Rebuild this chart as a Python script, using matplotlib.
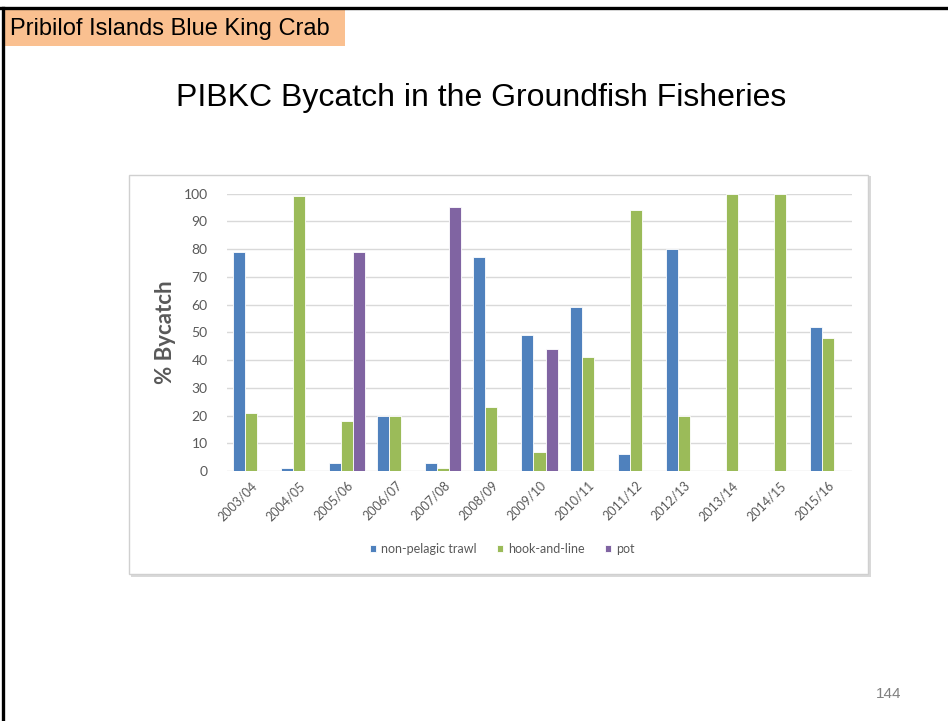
import matplotlib.pyplot as plt
import numpy as np
from matplotlib.patches import Rectangle
from matplotlib.lines import Line2D

# data
seasons = ['2003/04', '2004/05', '2005/06', '2006/07', '2007/08', '2008/09', '2009/10',
           '2010/11', '2011/12', '2012/13', '2013/14', '2014/15', '2015/16']
trawl = [79, 1, 3, 20, 3, 77, 49, 59, 6, 80, 0, 0, 52]
hook_line = [21, 99, 18, 20, 1, 23, 7, 41, 94, 20, 100, 100, 48]
pot = [0, 0, 79, 0, 95, 0, 44, 0, 0, 0, 0, 0, 0]
series_names = ['non-pelagic trawl', 'hook-and-line', 'pot']
colors = ['#4F81BD', '#9BBB59', '#8064A2']

W, H = 948, 721
fig = plt.figure(figsize=(W / 100, H / 100), dpi=100)

def fx(px):
    return px / W

def fy(py):
    return 1 - py / H

# slide border (top and left)
fig.add_artist(Line2D([0, 1], [fy(8), fy(8)], color='black', lw=2.4, transform=fig.transFigure))
fig.add_artist(Line2D([fx(3), fx(3)], [fy(8), 0], color='black', lw=2.4, transform=fig.transFigure))

# orange header tag
fig.add_artist(Rectangle((fx(5), fy(46)), fx(340), 36 / H, transform=fig.transFigure,
                         facecolor='#FAC090', edgecolor='none'))
fig.text(fx(10), fy(29), 'Pribilof Islands Blue King Crab', fontsize=17,
         family='Liberation Sans', va='center', ha='left', color='black')

# slide title
fig.text(fx(481), fy(98), 'PIBKC Bycatch in the Groundfish Fisheries', fontsize=23,
         family='Liberation Sans', va='center', ha='center', color='black')

# page number
fig.text(fx(889), fy(694), '144', fontsize=11, family='Liberation Sans',
         va='center', ha='center', color='#808080')

# chart frame with a light shadow
fig.add_artist(Rectangle((fx(131), fy(577)), fx(740), 401 / H, transform=fig.transFigure,
                         facecolor='#D9D9D9', edgecolor='none', zorder=-2))
fig.add_artist(Rectangle((fx(129), fy(574)), fx(739), 399 / H, transform=fig.transFigure,
                         facecolor='white', edgecolor='#D0D0D0', lw=1, zorder=-1))

ax = fig.add_axes([fx(227), fy(471), fx(852 - 227), (471 - 193.5) / H])
ax.set_facecolor('none')
ax.set_zorder(2)

x = np.arange(len(seasons))
w = 0.25
for i, (vals, name, c) in enumerate(zip([trawl, hook_line, pot], series_names, colors)):
    ax.bar(x + (i - 1) * w, vals, width=w, color=c, edgecolor='white', linewidth=0.6,
           label=name, zorder=3)

ax.set_xlim(-0.5, len(seasons) - 0.5)
ax.set_ylim(0, 100)
ax.set_yticks(range(0, 101, 10))
ax.grid(axis='y', color='#D9D9D9', lw=1, zorder=0)
for s in ax.spines.values():
    s.set_visible(False)
ax.tick_params(length=0, colors='#595959', labelsize=10)
ax.tick_params(axis='y', pad=14)
for lab in ax.get_yticklabels():
    lab.set_family('Lato')

ax.set_xticks(x)
ax.set_xticklabels(seasons, rotation=45, ha='right', rotation_mode='anchor',
                   fontsize=9, family='Lato', color='#595959')
ax.tick_params(axis='x', pad=6)

ax.set_ylabel('% Bycatch', fontsize=16, fontweight='bold', family='Lato',
              color='#595959', labelpad=5)

leg = ax.legend(loc='center', bbox_to_anchor=(fx(502), fy(549)),
                bbox_transform=fig.transFigure, ncol=3, frameon=False,
                prop={'family': 'Lato', 'size': 9}, handlelength=0.5, handleheight=0.5,
                handletextpad=0.4, columnspacing=1.6)
for t in leg.get_texts():
    t.set_color('#595959')

fig.savefig('out.png', dpi=100)
